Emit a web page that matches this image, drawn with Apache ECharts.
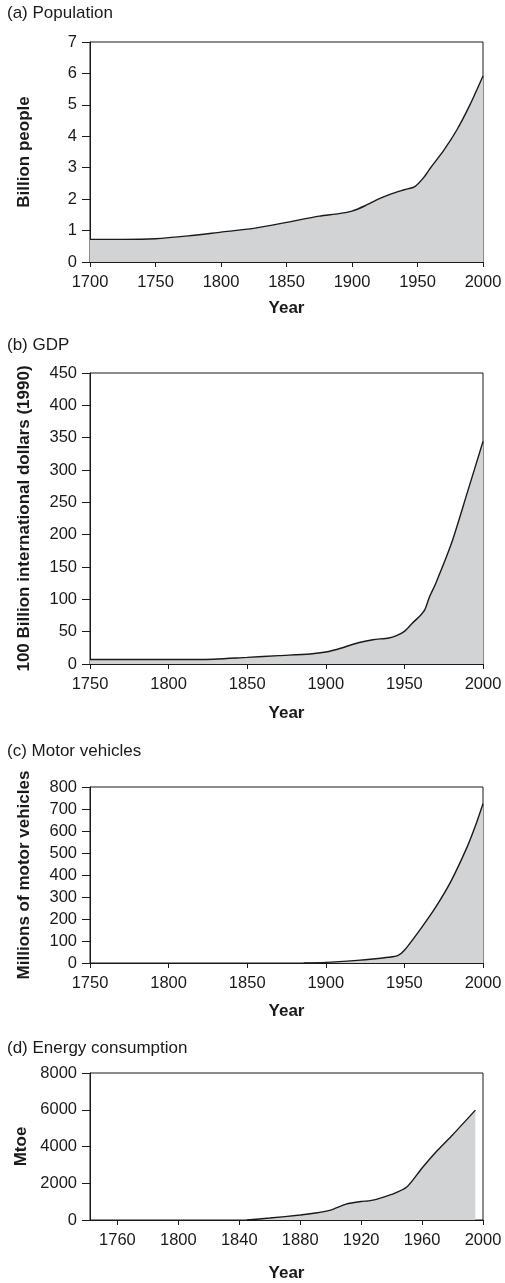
<!DOCTYPE html>
<html>
<head>
<meta charset="utf-8">
<script src="https://cdn.jsdelivr.net/npm/echarts@6/dist/echarts.min.js"></script>
<style>html,body{margin:0;padding:0;background:#fff;}#c{width:505px;height:1283px;}</style>
</head>
<body>
<div id="c"></div>
<script>
// (a) Population, billion people
const popYears  = [1700, 1725, 1750, 1775, 1800, 1825, 1850, 1875, 1890, 1900, 1910, 1920, 1930, 1940, 1948, 1955, 1960, 1970, 1980, 1990, 2000];
const popValues = [0.72, 0.72, 0.74, 0.83, 0.95, 1.07, 1.26, 1.46, 1.54, 1.62, 1.79, 2.0, 2.17, 2.3, 2.4, 2.7, 3.0, 3.55, 4.2, 5.0, 5.92];

// (b) GDP, 100 billion international dollars (1990)
const gdpYears  = [1750, 1800, 1820, 1850, 1870, 1890, 1900, 1910, 1920, 1930, 1940, 1945, 1950, 1955, 1960, 1963, 1966, 1970, 1980, 1990, 2000];
const gdpValues = [7, 7, 7, 10.3, 13, 15.5, 18.5, 24.7, 32.5, 37.6, 40.2, 44, 50.5, 63, 74.7, 84, 104, 125, 187, 265, 344];

// (c) Motor vehicles, millions
const carYears  = [1886, 1900, 1920, 1930, 1940, 1946, 1950, 1960, 1970, 1980, 1990, 1995, 2000];
const carValues = [0, 3, 12, 18, 26, 35, 58, 152, 255, 377, 529, 620, 724];

// (d) Energy consumption, Mtoe
const enYears  = [1845, 1860, 1880, 1890, 1900, 1910, 1920, 1925, 1930, 1940, 1950, 1960, 1970, 1980, 1995];
const enValues = [0, 108, 270, 380, 540, 865, 1010, 1040, 1120, 1390, 1800, 2830, 3780, 4630, 5980];

// tick labels
const titles = ['(a) Population', '(b) GDP', '(c) Motor vehicles', '(d) Energy consumption'];
const yNames = ['Billion people', '100 Billion international dollars (1990)', 'Millions of motor vehicles', 'Mtoe'];
const energyXTicks = [1760, 1800, 1840, 1880, 1920, 1960, 2000];

const zip = (xs, ys) => xs.map((x, i) => [x, ys[i]]);
const FONT = 'Liberation Sans, Arial, Helvetica, sans-serif';
const INK = '#1a1a1a';
const FILL = '#d1d3d4';
const plain = v => String(v);

const grids = [
  {left: 90, right: 22, top: 42, height: 220},
  {left: 90, right: 22, top: 373, height: 291},
  {left: 90, right: 22, top: 787, height: 176},
  {left: 90, right: 22, top: 1073, height: 148}
].map(g => Object.assign(g, {show: true, borderColor: INK, borderWidth: 1, backgroundColor: 'transparent'}));

const titleTops = [0, 332, 738, 1035];

const xCfg = [
  {min: 1700, max: 2000, interval: 50, gap: 38},
  {min: 1750, max: 2000, interval: 50, gap: 41},
  {min: 1750, max: 2000, interval: 50, gap: 40},
  {min: 1742, max: 2000, custom: energyXTicks, gap: 45}
];
const yCfg = [
  {min: 0, max: 7, interval: 1},
  {min: 0, max: 450, interval: 50},
  {min: 0, max: 800, interval: 100},
  {min: 0, max: 8000, interval: 2000}
];

const axisLine = {show: true, onZero: false, lineStyle: {color: INK, width: 1}};
const xTick = {show: true, inside: false, length: 5, lineStyle: {color: INK, width: 1}};
const yTick = {show: true, inside: false, length: 8, lineStyle: {color: INK, width: 1}};

const xAxis = xCfg.map((c, i) => {
  const a = {
    type: 'value', gridIndex: i, min: c.min, max: c.max,
    name: 'Year', nameLocation: 'middle', nameGap: c.gap,
    nameTextStyle: {fontFamily: FONT, fontWeight: 'bold', fontSize: 17, color: INK},
    axisLine, splitLine: {show: false},
    axisTick: Object.assign({}, xTick),
    axisLabel: {fontFamily: FONT, fontSize: 16.5, color: INK, margin: 12, showMinLabel: true, showMaxLabel: true, formatter: plain}
  };
  if (c.custom) {
    a.axisTick.customValues = c.custom;
    a.axisLabel.customValues = c.custom;
  } else {
    a.interval = c.interval;
  }
  return a;
});

const yAxis = yCfg.map((c, i) => ({
  type: 'value', gridIndex: i, min: c.min, max: c.max, interval: c.interval,
  name: yNames[i], nameLocation: 'middle', nameGap: 57, nameRotate: 90,
  nameTextStyle: {fontFamily: FONT, fontWeight: 'bold', fontSize: 17, color: INK},
  axisLine, splitLine: {show: false}, axisTick: yTick,
  axisLabel: {fontFamily: FONT, fontSize: 16.5, color: INK, margin: 13, formatter: plain}
}));

const datasets = [zip(popYears, popValues), zip(gdpYears, gdpValues), zip(carYears, carValues), zip(enYears, enValues)];
const series = datasets.map((d, i) => ({
  type: 'line', xAxisIndex: i, yAxisIndex: i, data: d,
  smooth: 0.25, showSymbol: false, symbol: 'none',
  lineStyle: {color: INK, width: 1.4},
  areaStyle: {color: FILL, opacity: 1},
  z: 1
}));

const chart = echarts.init(document.getElementById('c'), null, {renderer: 'canvas'});
chart.setOption({
  animation: false,
  backgroundColor: '#fff',
  title: titles.map((t, i) => ({
    text: t, left: 2, top: titleTops[i],
    textStyle: {fontFamily: FONT, fontWeight: 'normal', fontSize: 17, color: INK}
  })),
  grid: grids, xAxis, yAxis, series
});
</script>
</body>
</html>
